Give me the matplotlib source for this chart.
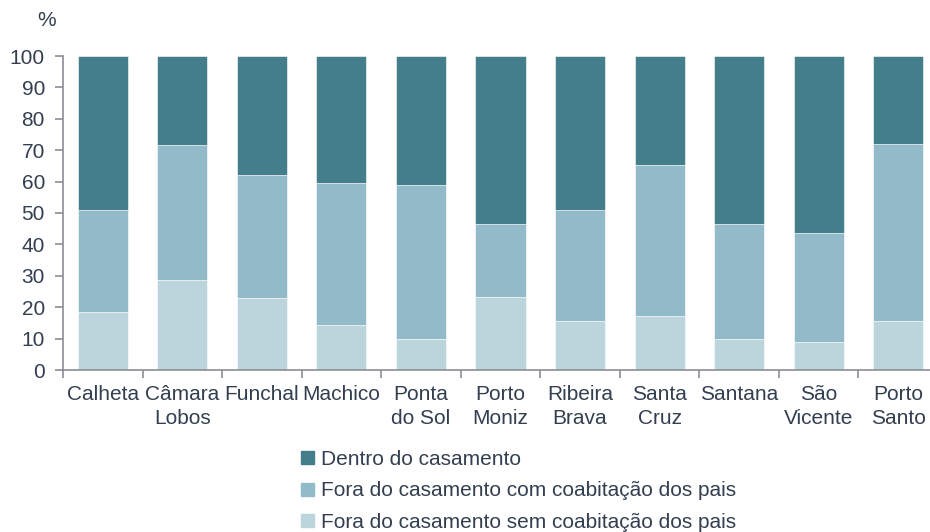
import numpy as np
import matplotlib
matplotlib.use("Agg")
import matplotlib.pyplot as plt
from matplotlib.patches import Patch

plt.rcParams['font.family'] = ['Liberation Sans', 'DejaVu Sans']

## Municipalities and shares (%) of births by parents' situation
concelhos = ['Calheta', 'Câmara\nLobos', 'Funchal', 'Machico', 'Ponta\ndo Sol',
             'Porto\nMoniz', 'Ribeira\nBrava', 'Santa\nCruz', 'Santana',
             'São\nVicente', 'Porto\nSanto']
sem_coab = [18.5, 28.7, 22.9, 14.3, 9.9, 23.2, 15.6, 17.2, 9.9, 9.0, 15.6]
com_coab = [32.5, 42.9, 39.1, 45.3, 49.0, 23.2, 35.3, 48.0, 36.6, 34.6, 56.4]
dentro = [49.0, 28.4, 38.0, 40.4, 41.1, 53.6, 49.1, 34.8, 53.5, 56.4, 28.0]

c_dentro = '#437e8a'
c_com = '#93bac8'
c_sem = '#bcd5dc'
txt = '#333f50'
axcol = '#8a8d93'

fig = plt.figure(figsize=(9.3, 5.32), dpi=100)
ax = fig.add_axes([63/930, 162/532, 875/930, 314/532])

x = np.arange(len(concelhos))
w = 0.63
b1 = np.array(sem_coab)
b2 = b1 + np.array(com_coab)
ax.bar(x, sem_coab, w, color=c_sem, edgecolor='white', linewidth=0.4)
ax.bar(x, com_coab, w, bottom=b1, color=c_com, edgecolor='white', linewidth=0.4)
ax.bar(x, dentro, w, bottom=b2, color=c_dentro, edgecolor='white', linewidth=0.4)

ax.set_xlim(-0.5, len(concelhos) - 0.5)
ax.set_ylim(0, 100)
ax.set_yticks(np.arange(0, 101, 10))
ax.set_xticks(x)
ax.set_xticklabels(concelhos, fontsize=15, color=txt, linespacing=1.3)
ax.set_xticks(np.arange(-0.5, len(concelhos), 1), minor=True)
ax.tick_params(axis='x', which='major', length=0, pad=11)
ax.tick_params(axis='x', which='minor', length=6, width=1.2, color=axcol)
ax.tick_params(axis='y', labelsize=15, labelcolor=txt, length=6, width=1.2, color=axcol, pad=7)

for s in ['top', 'right']:
    ax.spines[s].set_visible(False)
for s in ['left', 'bottom']:
    ax.spines[s].set_color(axcol)
    ax.spines[s].set_linewidth(1.2)

fig.text(37/930, 1 - 20/532, '%', fontsize=15, color=txt, va='center')

handles = [Patch(color=c_dentro), Patch(color=c_com), Patch(color=c_sem)]
labels = ['Dentro do casamento', 'Fora do casamento com coabitação dos pais',
          'Fora do casamento sem coabitação dos pais']
leg = fig.legend(handles, labels, loc='upper left', bbox_to_anchor=(301/930, 1 - 450/532),
                 frameon=False, fontsize=15, handlelength=0.6, handleheight=0.6,
                 handletextpad=0.35, labelspacing=0.6, borderpad=0, borderaxespad=0)
for t in leg.get_texts():
    t.set_color(txt)

fig.savefig('out.png', dpi=100)
